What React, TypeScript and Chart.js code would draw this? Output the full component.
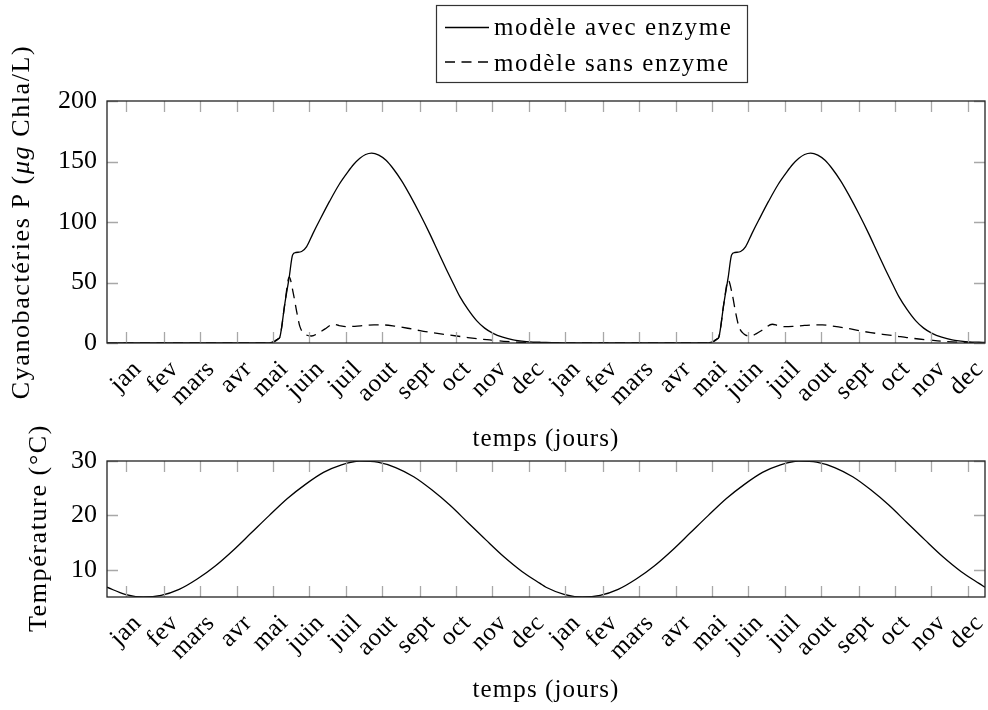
import React, { useEffect, useRef } from "react";
import { Chart, registerables } from "chart.js";

Chart.register(...registerables);

const FONT = '"Liberation Serif", "Times New Roman", serif';

const MONTHS = ["jan", "fev", "mars", "avr", "mai", "juin", "juil", "aout", "sept", "oct", "nov", "dec"];
const MONTH_LABELS = [...MONTHS, ...MONTHS];
const MONTH_TICKS = [16, 47, 77, 108, 138, 168, 199, 229, 260, 290, 320, 351, 381, 412, 442, 473, 503, 533, 564, 594, 625, 655, 685, 716];

const P_TICKS = [0, 50, 100, 150, 200];
const T_TICKS = [10, 20, 30];

// modèle avec enzyme (jours, µg Chla/L)
const WITH_DAYS = [
  0, 60, 120, 132, 137, 140, 142, 143.8, 147.9, 151.5, 154.3, 157, 161.8, 166, 171, 177, 185, 193, 200, 205, 210, 215, 220, 226, 232, 238, 245, 252, 260, 268.5, 275.5, 282.4, 288, 293.4, 300, 307.3, 314, 321, 329, 337.7, 345, 351.6, 360, 365,
  372, 380, 395, 430, 485, 497, 502, 505, 507, 508.8, 512.9, 516.5, 519.3, 522, 526.8, 531, 536, 542, 550, 558, 565, 570, 575, 580, 585, 591, 597, 603, 610, 617, 625, 633.5, 640.5, 647.4, 653, 658.4, 665, 672.3, 679, 686, 694, 702.7, 710, 716.6, 725, 730,
];
const WITH_VALUES = [
  0, 0, 0, 0, 0.5, 1.8, 3.2, 5.2, 32.8, 54.4, 72.8, 74.8, 75.6, 79.7, 90, 101.8, 117, 131, 141, 147.5, 152.5, 155.8, 157, 155.3, 151, 144, 134, 122, 107, 90, 75, 60.4, 49, 38.3, 28, 18.5, 12.3, 8, 4.8, 2.5, 1.6, 1, 0.6, 0.4,
  0.25, 0.1, 0, 0, 0, 0, 0.5, 1.8, 3.2, 5.2, 32.8, 54.4, 72.8, 74.8, 75.6, 79.7, 90, 101.8, 117, 131, 141, 147.5, 152.5, 155.8, 157, 155.3, 151, 144, 134, 122, 107, 90, 75, 60.4, 49, 38.3, 28, 18.5, 12.3, 8, 4.8, 2.5, 1.6, 1, 0.6, 0.4,
];

// modèle sans enzyme
const WITHOUT_DAYS = [
  0, 120, 132, 137, 140, 142, 143.8, 147.9, 151.5, 154.9, 157.7, 160.4, 164.6, 170.1, 175, 181, 188.1, 193, 199.2, 206, 215, 222, 229.7, 240, 250, 260.2, 270, 280, 290.7, 300, 310, 318.3, 330, 343, 355, 365,
  430, 497, 502, 505, 507, 508.8, 512.9, 516.5, 519.9, 522.7, 525.4, 529.6, 535.1, 540, 546, 553.1, 558, 564.2, 571, 580, 587, 594.7, 605, 615, 625.2, 635, 645, 655.7, 665, 675, 683.3, 695, 708, 720, 730,
];
const WITHOUT_VALUES = [
  0, 0, 0, 0.5, 1.8, 3.2, 5.2, 32.8, 54.4, 41, 26, 13.5, 7.4, 5.8, 7.8, 11.5, 15.5, 14.4, 13.5, 13.8, 14.5, 14.9, 14.9, 13.8, 12.2, 10.2, 8.6, 7.2, 5.8, 4.5, 3.3, 2.5, 1.4, 0.6, 0.2, 0,
  0, 0, 0.5, 1.8, 3.2, 5.2, 32.8, 52, 40, 25, 13.5, 7.4, 5.8, 7.8, 11.5, 15.5, 14.4, 13.5, 13.8, 14.5, 14.9, 14.9, 13.8, 12.2, 10.2, 8.6, 7.2, 5.8, 4.5, 3.3, 2.5, 1.4, 0.6, 0.2, 0,
];

// Température (°C)
const TEMP_DAYS = [
  0, 15, 30, 45, 60, 75, 90, 105, 120, 135, 150, 165, 180, 195, 210, 225, 240, 255, 270, 285, 300, 315, 330, 345, 360, 365,
  380, 395, 410, 425, 440, 455, 470, 485, 500, 515, 530, 545, 560, 575, 590, 605, 620, 635, 650, 665, 680, 695, 710, 725, 730,
];
const TEMP_VALUES = [
  6.8, 5.5, 5.0, 5.3, 6.4, 8.3, 10.7, 13.6, 16.8, 20.0, 23.1, 25.7, 27.9, 29.3, 30.0, 29.8, 28.8, 27.1, 24.7, 21.9, 18.7, 15.5, 12.4, 9.7, 7.5, 6.8,
  5.5, 5.0, 5.3, 6.4, 8.3, 10.7, 13.6, 16.8, 20.0, 23.1, 25.7, 27.9, 29.3, 30.0, 29.8, 28.8, 27.1, 24.7, 21.9, 18.7, 15.5, 12.4, 9.7, 7.5, 6.8,
];

const LEGEND_LABELS = ["modèle avec enzyme", "modèle sans enzyme"];
const X_TITLE = "temps (jours)";
const P_TITLE: [string, boolean][] = [["Cyanobactéries P (", false], ["μg", true], [" Chla/L)", false]];
const T_TITLE: [string, boolean][] = [["Température (°C)", false]];

const DASH = [10, 6.5];
const W = 988;
const H = 710;

function pts(days: number[], vals: number[]) {
  return days.map((d, i) => ({ x: d, y: vals[i] }));
}

function setSpacing(ctx: any, v: string) {
  if ("letterSpacing" in ctx) ctx.letterSpacing = v;
}

function makePlugin(cfg: { xTitleY: number; yTitleX: number; yTitleCY: number; yTitle: [string, boolean][]; legend: boolean }) {
  return {
    id: "pgfFrame",
    afterDraw(chart: any) {
      const { ctx, chartArea: a, scales } = chart;
      const xs = scales.x;
      const ys = scales.y;
      ctx.save();
      // tick marks (inward, mirrored)
      ctx.strokeStyle = "#a8a8a8";
      ctx.lineWidth = 1.3;
      ctx.beginPath();
      for (const t of MONTH_TICKS) {
        const px = Math.round(xs.getPixelForValue(t)) + 0.5;
        ctx.moveTo(px, a.bottom);
        ctx.lineTo(px, a.bottom - 11);
        ctx.moveTo(px, a.top);
        ctx.lineTo(px, a.top + 11);
      }
      for (const tk of ys.ticks) {
        const py = Math.round(ys.getPixelForValue(tk.value)) + 0.5;
        ctx.moveTo(a.left, py);
        ctx.lineTo(a.left + 11, py);
        ctx.moveTo(a.right, py);
        ctx.lineTo(a.right - 11, py);
      }
      ctx.stroke();
      // frame
      ctx.strokeStyle = "#222";
      ctx.lineWidth = 1.3;
      ctx.strokeRect(a.left, a.top, a.right - a.left, a.bottom - a.top);

      // x tick labels rotated 45°
      ctx.fillStyle = "#000";
      ctx.font = "25px " + FONT;
      setSpacing(ctx, "0.6px");
      ctx.textAlign = "right";
      ctx.textBaseline = "alphabetic";
      MONTH_TICKS.forEach((t, i) => {
        const px = xs.getPixelForValue(t);
        ctx.save();
        ctx.translate(px + 16, a.bottom + 27);
        ctx.rotate(-Math.PI / 4);
        ctx.fillText(MONTH_LABELS[i], 0, 0);
        ctx.restore();
      });

      // x title
      setSpacing(ctx, "1.1px");
      ctx.textAlign = "center";
      ctx.fillText(X_TITLE, (a.left + a.right) / 2, cfg.xTitleY);

      // y title (rotated, mixed italic)
      ctx.save();
      setSpacing(ctx, "1.6px");
      ctx.translate(cfg.yTitleX, cfg.yTitleCY);
      ctx.rotate(-Math.PI / 2);
      ctx.textAlign = "left";
      let total = 0;
      for (const [s, it] of cfg.yTitle) {
        ctx.font = (it ? "italic " : "") + "26px " + FONT;
        total += ctx.measureText(s).width;
      }
      let x0 = -total / 2;
      for (const [s, it] of cfg.yTitle) {
        ctx.font = (it ? "italic " : "") + "26px " + FONT;
        ctx.fillText(s, x0, 0);
        x0 += ctx.measureText(s).width;
      }
      ctx.restore();

      // legend
      if (cfg.legend) {
        ctx.strokeStyle = "#333";
        ctx.lineWidth = 1.2;
        ctx.strokeRect(436.5, 5.5, 311, 77);
        ctx.strokeStyle = "#000";
        ctx.lineWidth = 1.3;
        ctx.beginPath();
        ctx.moveTo(445, 27.5);
        ctx.lineTo(489, 27.5);
        ctx.stroke();
        ctx.setLineDash(DASH);
        ctx.beginPath();
        ctx.moveTo(445, 62);
        ctx.lineTo(489, 62);
        ctx.stroke();
        ctx.setLineDash([]);
        ctx.font = "25px " + FONT;
        setSpacing(ctx, "1.6px");
        ctx.textAlign = "left";
        ctx.fillText(LEGEND_LABELS[0], 494, 35);
        ctx.fillText(LEGEND_LABELS[1], 494, 70.5);
      }
      ctx.restore();
    },
  };
}

function baseScales(yMin: number, yMax: number, yTicks: number[], xHeight: number) {
  return {
    x: {
      type: "linear" as const,
      min: 0,
      max: 730,
      grid: { display: false, drawTicks: false },
      border: { display: false },
      ticks: { display: false },
      afterFit: (s: any) => {
        s.height = xHeight;
      },
    },
    y: {
      type: "linear" as const,
      min: yMin,
      max: yMax,
      afterBuildTicks: (s: any) => {
        s.ticks = yTicks.map((v) => ({ value: v }));
      },
      grid: { display: false, drawTicks: false },
      border: { display: false },
      ticks: { color: "#000", padding: 10, font: { family: FONT, size: 26 } },
      afterFit: (s: any) => {
        s.width = 107;
      },
    },
  };
}

export default function App() {
  const topRef = useRef<HTMLCanvasElement | null>(null);
  const botRef = useRef<HTMLCanvasElement | null>(null);

  useEffect(() => {
    const lineCommon = {
      borderColor: "#000",
      borderWidth: 1.3,
      pointRadius: 0,
      fill: false,
      cubicInterpolationMode: "monotone" as const,
    };
    const top = new Chart(topRef.current!, {
      type: "line",
      data: {
        datasets: [
          { ...lineCommon, label: LEGEND_LABELS[0], data: pts(WITH_DAYS, WITH_VALUES) },
          { ...lineCommon, label: LEGEND_LABELS[1], data: pts(WITHOUT_DAYS, WITHOUT_VALUES), borderDash: DASH },
        ],
      },
      options: {
        animation: false,
        responsive: false,
        devicePixelRatio: 1,
        parsing: false,
        layout: { padding: { left: 0, right: 3, top: 101, bottom: 0 } },
        plugins: { legend: { display: false }, tooltip: { enabled: false } },
        scales: baseScales(0, 200, P_TICKS, H - 343),
      },
      plugins: [makePlugin({ xTitleY: 446, yTitleX: 29, yTitleCY: 222, yTitle: P_TITLE, legend: true })],
    });
    const bot = new Chart(botRef.current!, {
      type: "line",
      data: {
        datasets: [{ ...lineCommon, label: "Température", data: pts(TEMP_DAYS, TEMP_VALUES) }],
      },
      options: {
        animation: false,
        responsive: false,
        devicePixelRatio: 1,
        parsing: false,
        layout: { padding: { left: 0, right: 3, top: 461, bottom: 0 } },
        plugins: { legend: { display: false }, tooltip: { enabled: false } },
        scales: baseScales(5, 30, T_TICKS, H - 597),
      },
      plugins: [makePlugin({ xTitleY: 697, yTitleX: 46, yTitleCY: 528, yTitle: T_TITLE, legend: false })],
    });
    return () => {
      top.destroy();
      bot.destroy();
    };
  }, []);

  const cs: React.CSSProperties = { position: "absolute", left: 0, top: 0, width: W, height: H, display: "block" };
  return (
    <div style={{ position: "absolute", left: 0, top: 0, width: W, height: H, background: "#fff" }}>
      <canvas ref={botRef} width={W} height={H} style={cs} />
      <canvas ref={topRef} width={W} height={H} style={cs} />
    </div>
  );
}
